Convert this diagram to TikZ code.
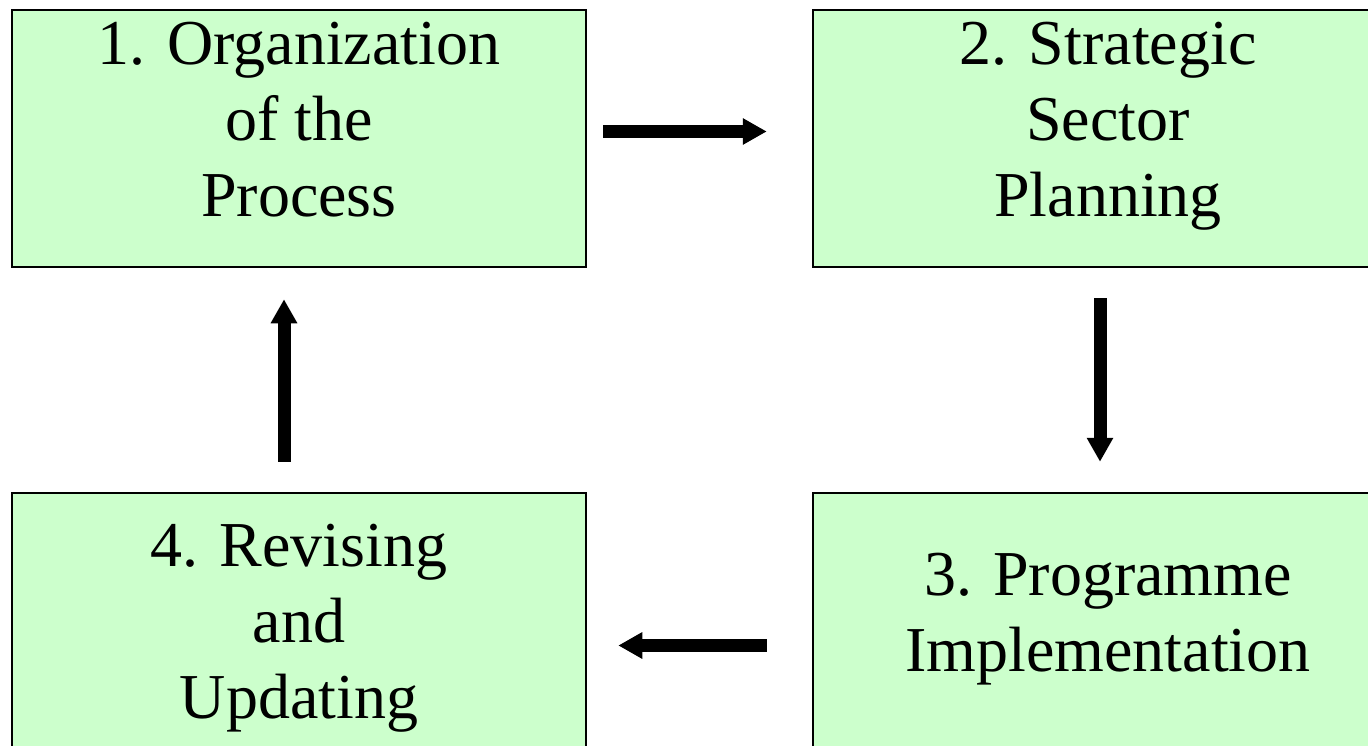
\documentclass[tikz,border=0pt]{standalone}
\usepackage{fontspec}
\setmainfont{Liberation Serif}
\usetikzlibrary{positioning,arrows.meta}
\definecolor{boxgreen}{RGB}{204,255,204}

\begin{document}
\begin{tikzpicture}[x=1pt, y=-1pt,
		block/.style={draw, line width=2.5pt, fill=boxgreen, minimum width=574pt, minimum height=257pt, inner sep=0pt, align=center, font=\fontsize{64}{76}\selectfont},
		flow/.style={-{Triangle[width=25pt,length=24pt]}, line width=13pt}]
			\clip (0,0) rectangle (1368,746);
			%\draw[step=50,gray,very thin] (0,0) grid (1368,746);
			\node[block, text depth=38pt] (org) at (299,138.5) {1. Organization\\of the\\Process};
			\node[block, text depth=38pt, minimum width=590pt] (plan) at (1108,138.5) {2. Strategic\\Sector\\Planning};
			\node[block, text depth=19pt, minimum width=590pt] (impl) at (1108,621.5) {3. Programme\\Implementation};
			\node[block, text depth=0pt] (rev) at (299,621.5) {4. Revising\\and\\Updating};
			\draw[flow, shorten <=16pt, shorten >=45pt] ([yshift=7pt]org.east) -- ([yshift=7pt]plan.west);
			\draw[flow, shorten <=30pt, shorten >=30pt] ([xshift=-8pt]plan.south) -- ([xshift=-8pt]impl.north);
			\draw[flow, shorten <=45pt, shorten >=31pt] ([yshift=-24pt]impl.west) -- ([yshift=-24pt]rev.east);
			\draw[flow, shorten <=30pt, shorten >=31pt] ([xshift=-15pt]rev.north) -- ([xshift=-15pt]org.south);
		\end{tikzpicture}
\end{document}
